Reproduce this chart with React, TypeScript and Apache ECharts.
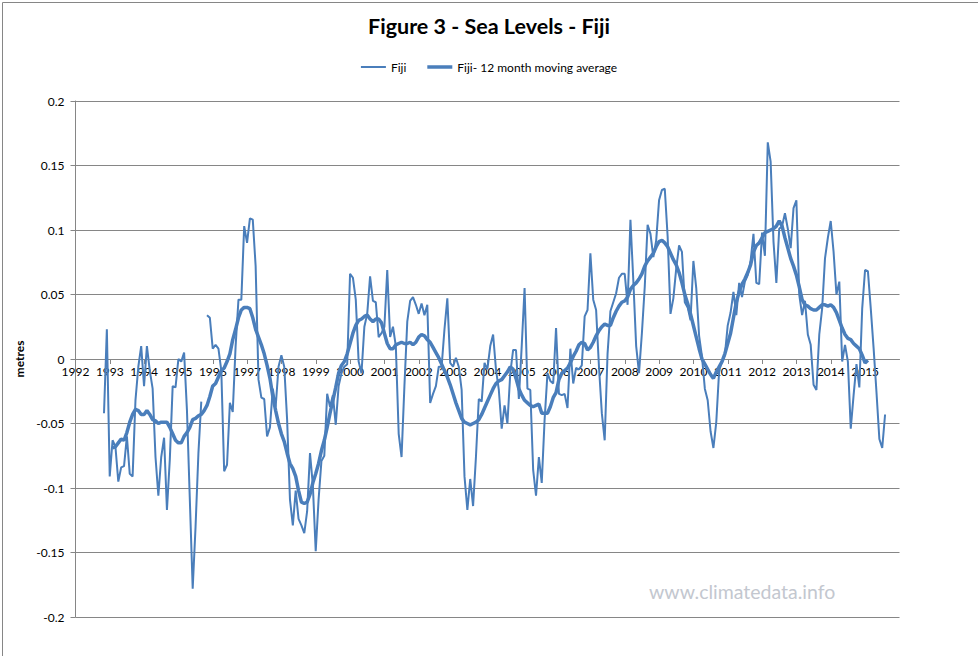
import React, { useEffect, useRef } from "react";
import * as echarts from "echarts";

const TITLE = "Figure 3 - Sea Levels - Fiji";
const SERIES_NAMES = ["Fiji", "Fiji- 12 month moving average"];
const WATERMARK = "www.climatedata.info";
const Y_AXIS_NAME = "metres";

// first monthly observation (decimal year), one value per month
const FIRST_YEAR = 1992.83;
const MONTHS_PER_YEAR = 12;

// x axis ticks: years
const YEAR_MIN = 1992;
const YEAR_MAX = 2016;

// monthly sea level (metres); null = missing month
const FIJI: (number | null)[] = [
  -0.042, 0.023, -0.091, -0.063, -0.068, -0.095, -0.084, -0.083, -0.060, -0.089,
  -0.091, -0.032, -0.006, 0.010, -0.021, 0.010, -0.009, -0.023, -0.076, -0.106,
  -0.076, -0.061, -0.117, -0.078, -0.021, -0.022, 0.000, -0.002, 0.005, -0.040,
  -0.109, -0.178, -0.130, -0.073, -0.033, null, 0.034, 0.032, 0.008, 0.011,
  0.008, -0.009, -0.087, -0.082, -0.034, -0.041, 0.010, 0.046, 0.046, 0.103,
  0.090, 0.109, 0.108, 0.072, -0.016, -0.030, -0.031, -0.060, -0.053, -0.023,
  -0.037, -0.006, 0.003, -0.006, -0.047, -0.109, -0.129, -0.102, -0.124, -0.129,
  -0.135, -0.118, -0.073, -0.098, -0.149, -0.109, -0.079, -0.075, -0.027, -0.037,
  -0.028, -0.051, -0.021, -0.011, -0.006, -0.004, 0.066, 0.063, 0.046, -0.002,
  -0.011, 0.025, 0.035, 0.064, 0.045, 0.044, 0.017, 0.020, 0.025, 0.069,
  0.017, 0.025, 0.010, -0.058, -0.076, -0.021, 0.029, 0.045, 0.048, 0.042,
  0.035, 0.043, 0.034, 0.042, -0.034, -0.027, -0.021, -0.006, -0.006, 0.023,
  0.047, -0.003, -0.006, 0.001, -0.006, -0.024, -0.091, -0.117, -0.093, -0.114,
  -0.076, -0.031, -0.033, -0.003, -0.008, 0.010, 0.019, -0.008, -0.024, -0.054,
  -0.036, -0.050, -0.011, 0.007, 0.007, -0.031, 0.010, 0.055, -0.023, -0.024,
  -0.086, -0.106, -0.076, -0.096, -0.047, -0.011, -0.017, -0.019, 0.024, -0.027,
  -0.028, -0.027, -0.038, 0.008, -0.019, -0.007, -0.008, -0.005, 0.033, 0.038,
  0.082, 0.046, 0.038, -0.006, -0.042, -0.063, 0.004, 0.037, 0.044, 0.051,
  0.063, 0.066, 0.066, 0.042, 0.108, 0.061, 0.010, -0.011, 0.020, 0.056,
  0.104, 0.097, 0.079, 0.092, 0.123, 0.131, 0.132, 0.095, 0.035, 0.047,
  0.070, 0.088, 0.083, 0.044, 0.040, 0.030, 0.076, 0.055, 0.018, 0.002,
  -0.023, -0.032, -0.056, -0.069, -0.049, -0.009, -0.002, 0.003, 0.026, 0.036,
  0.052, 0.034, 0.059, 0.048, 0.060, 0.065, 0.076, 0.097, 0.059, 0.058,
  0.098, 0.080, 0.168, 0.153, 0.091, 0.059, 0.101, 0.103, 0.113, 0.101,
  0.086, 0.117, 0.123, 0.050, 0.034, 0.045, 0.019, 0.011, -0.020, -0.024,
  0.019, 0.039, 0.078, 0.094, 0.107, 0.083, 0.050, 0.060, -0.002, 0.011,
  -0.002, -0.054, -0.028, -0.004, -0.022, 0.039, 0.069, 0.068, 0.039, 0.008,
  -0.026, -0.062, -0.069, -0.043,
];

// 12 month moving average, starting at month index MA_OFFSET
const MA_OFFSET = 3;
const FIJI_MA: number[] = [
  -0.069, -0.068, -0.065, -0.062, -0.063, -0.057, -0.049, -0.043, -0.039, -0.040,
  -0.043, -0.043, -0.040, -0.043, -0.047, -0.048, -0.050, -0.049, -0.049, -0.049,
  -0.053, -0.058, -0.063, -0.065, -0.065, -0.060, -0.057, -0.053, -0.047, -0.046,
  -0.044, -0.043, -0.040, -0.036, -0.029, -0.021, -0.019, -0.014, -0.009, -0.007,
  -0.002, 0.004, 0.015, 0.023, 0.032, 0.038, 0.040, 0.040, 0.039, 0.032,
  0.023, 0.017, 0.011, 0.004, -0.005, -0.015, -0.029, -0.040, -0.050, -0.058,
  -0.064, -0.073, -0.081, -0.085, -0.091, -0.102, -0.111, -0.112, -0.111, -0.105,
  -0.096, -0.089, -0.081, -0.071, -0.063, -0.053, -0.042, -0.032, -0.022, -0.011,
  -0.005, -0.002, 0.004, 0.012, 0.020, 0.026, 0.030, 0.031, 0.033, 0.034,
  0.031, 0.029, 0.031, 0.031, 0.028, 0.020, 0.012, 0.008, 0.008, 0.011,
  0.012, 0.013, 0.012, 0.012, 0.013, 0.011, 0.013, 0.017, 0.019, 0.018,
  0.015, 0.013, 0.009, 0.005, 0.001, -0.004, -0.009, -0.014, -0.020, -0.027,
  -0.034, -0.040, -0.046, -0.049, -0.050, -0.051, -0.050, -0.049, -0.047, -0.043,
  -0.038, -0.033, -0.028, -0.023, -0.019, -0.017, -0.016, -0.013, -0.010, -0.006,
  -0.008, -0.015, -0.023, -0.028, -0.032, -0.034, -0.036, -0.037, -0.036, -0.035,
  -0.042, -0.042, -0.042, -0.037, -0.030, -0.026, -0.016, -0.011, -0.009, -0.007,
  -0.003, 0.002, 0.006, 0.011, 0.013, 0.012, 0.007, 0.009, 0.013, 0.018,
  0.022, 0.025, 0.027, 0.026, 0.026, 0.032, 0.037, 0.041, 0.044, 0.045,
  0.048, 0.054, 0.057, 0.059, 0.062, 0.066, 0.072, 0.076, 0.079, 0.082,
  0.087, 0.091, 0.092, 0.090, 0.087, 0.082, 0.077, 0.073, 0.067, 0.059,
  0.050, 0.043, 0.035, 0.026, 0.017, 0.008, 0.000, -0.004, -0.008, -0.012,
  -0.015, -0.010, -0.006, -0.002, 0.004, 0.012, 0.020, 0.032, 0.044, 0.052,
  0.058, 0.062, 0.067, 0.073, 0.083, 0.088, 0.090, 0.094, 0.098, 0.099,
  0.100, 0.101, 0.103, 0.107, 0.103, 0.094, 0.086, 0.078, 0.072, 0.065,
  0.056, 0.046, 0.042, 0.041, 0.039, 0.038, 0.038, 0.040, 0.042, 0.042,
  0.041, 0.042, 0.040, 0.036, 0.030, 0.024, 0.019, 0.016, 0.015, 0.012,
  0.010, 0.008, 0.003, -0.003, -0.001,
];

// y axis
const Y_MIN = -0.2;
const Y_MAX = 0.2;
const Y_STEP = 0.05;

const LINE_COLOR = "#4A7EBB";
const GRID_COLOR = "#868686";
const FONT = "Lato, 'Open Sans', sans-serif";

export default function App() {
  const ref = useRef<HTMLDivElement>(null);

  useEffect(() => {
    document.body.style.margin = "0";
    if (!ref.current) return;
    const chart = echarts.init(ref.current, undefined, { renderer: "svg" });

    const rawData = FIJI.map((v, i) => [FIRST_YEAR + i / MONTHS_PER_YEAR, v]);
    const maData = FIJI_MA.map((v, i) => [
      FIRST_YEAR + (i + MA_OFFSET) / MONTHS_PER_YEAR,
      v,
    ]);

    chart.setOption({
      animation: false,
      backgroundColor: "#ffffff",
      textStyle: { fontFamily: FONT },
      title: {
        text: TITLE,
        left: "center",
        top: 10,
        textStyle: {
          fontFamily: FONT,
          fontSize: 21.5,
          fontWeight: "bold",
          color: "#000",
        },
      },
      legend: {
        data: [
          { name: SERIES_NAMES[0], icon: "path://M0,0H25V2H0Z" },
          { name: SERIES_NAMES[1], icon: "path://M0,0H25V3.5H0Z" },
        ],
        left: "center",
        top: 56,
        itemWidth: 25,
        itemHeight: 12,
        itemGap: 21,
        symbolKeepAspect: true,
        textStyle: { fontFamily: FONT, fontSize: 12, color: "#000" },
      },
      grid: { left: 75.5, right: 78.5, top: 101, bottom: 39, containLabel: false },
      xAxis: {
        type: "value",
        min: YEAR_MIN,
        max: YEAR_MAX,
        interval: 1,
        position: "bottom",
        offset: 0,
        axisLine: { onZero: false, lineStyle: { color: GRID_COLOR, width: 1 } },
        axisTick: { show: true, length: 5, lineStyle: { color: GRID_COLOR } },
        axisLabel: {
          fontFamily: FONT,
          fontSize: 12,
          color: "#000",
          margin: 6,
          showMaxLabel: false,
          formatter: (v: number) => (v >= YEAR_MAX ? "" : String(v)),
        },
        splitLine: { show: false },
      },
      yAxis: {
        type: "value",
        min: Y_MIN,
        max: Y_MAX,
        interval: Y_STEP,
        name: Y_AXIS_NAME,
        nameLocation: "middle",
        nameRotate: 90,
        nameGap: 48,
        nameTextStyle: {
          fontFamily: FONT,
          fontSize: 12,
          fontWeight: "bold",
          color: "#000",
        },
        axisLine: { show: true, lineStyle: { color: GRID_COLOR, width: 1 } },
        axisTick: { show: true, length: 5, lineStyle: { color: GRID_COLOR } },
        axisLabel: {
          fontFamily: FONT,
          fontSize: 12,
          color: "#000",
          margin: 11,
          formatter: (v: number) => String(parseFloat(v.toFixed(2))),
        },
        splitLine: { show: true, lineStyle: { color: GRID_COLOR, width: 1 } },
      },
      series: [
        {
          name: SERIES_NAMES[0],
          type: "line",
          data: rawData,
          symbol: "none",
          showSymbol: false,
          connectNulls: false,
          lineStyle: { color: LINE_COLOR, width: 2 },
          itemStyle: { color: LINE_COLOR },
        },
        {
          name: SERIES_NAMES[1],
          type: "line",
          data: maData,
          symbol: "none",
          showSymbol: false,
          lineStyle: { color: LINE_COLOR, width: 3.5 },
          itemStyle: { color: LINE_COLOR },
        },
      ],
      graphic: [
        {
          type: "rect",
          left: 0,
          top: 0,
          shape: { x: 0.5, y: 0.5, width: 977, height: 655 },
          style: { fill: "none", stroke: GRID_COLOR, lineWidth: 1 },
          silent: true,
        },
        {
          type: "text",
          left: 649,
          top: 581,
          style: {
            text: WATERMARK,
            fontFamily: FONT,
            fontSize: 19.5,
            fill: "#c3c7cf",
          },
          silent: true,
        },
      ],
    });

    // place the x axis on the y = 0 line, using the y axis scale
    const yZero = chart.convertToPixel({ yAxisIndex: 0 }, 0) as number;
    const yBottom = chart.convertToPixel({ yAxisIndex: 0 }, Y_MIN) as number;
    chart.setOption({ xAxis: { offset: yZero - yBottom } });

    return () => chart.dispose();
  }, []);

  return <div ref={ref} style={{ width: 978, height: 656 }} />;
}
